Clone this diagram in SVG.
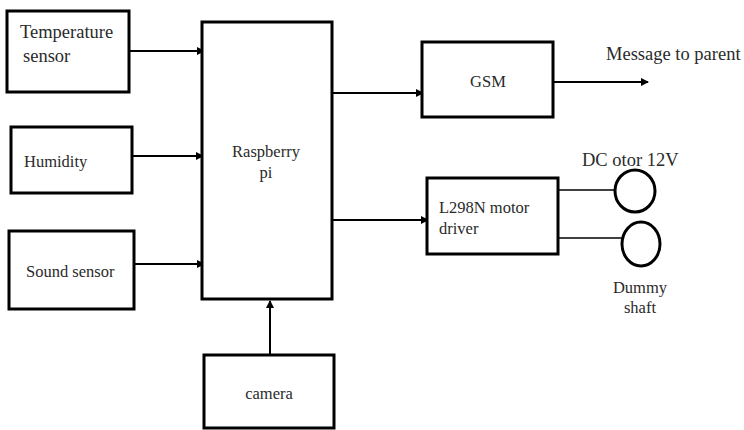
<svg xmlns="http://www.w3.org/2000/svg" width="744" height="430" viewBox="0 0 744 430">
<style>
.box{fill:#fff;stroke:#000;stroke-width:3}
.ln{fill:none;stroke:#000;stroke-width:2}
.thin{fill:none;stroke:#000;stroke-width:1.5}
.circ{fill:#fff;stroke:#000;stroke-width:3}
text{font-family:"Liberation Serif","Times New Roman",serif;font-size:16.5px;fill:#2a2a2a}
.big{font-size:18.5px}
.c{text-anchor:middle}
</style>
<defs>
<marker id="ah" markerWidth="8" markerHeight="8" refX="7" refY="4" orient="auto" markerUnits="userSpaceOnUse">
<path d="M0,0 L8,4 L0,8 Z" fill="#000"/>
</marker>
</defs>
<rect width="744" height="430" fill="#fff"/>
<g id="connectors">
<line class="ln" x1="129" y1="51" x2="204" y2="51" marker-end="url(#ah)"/>
<line class="ln" x1="132" y1="156" x2="203" y2="156" marker-end="url(#ah)"/>
<line class="ln" x1="134" y1="264" x2="204" y2="264" marker-end="url(#ah)"/>
<line class="ln" x1="270" y1="355" x2="270" y2="301" marker-end="url(#ah)"/>
<line class="ln" x1="332" y1="93" x2="423" y2="93" marker-end="url(#ah)"/>
<line class="ln" x1="332" y1="220" x2="428" y2="220" marker-end="url(#ah)"/>
<line class="ln" x1="553" y1="82" x2="648" y2="82" marker-end="url(#ah)"/>
<line class="thin" x1="558" y1="190" x2="615" y2="190"/>
<line class="thin" x1="558" y1="238" x2="622" y2="238"/>
</g>
<g id="temperature">
<rect class="box" x="7" y="11" width="122" height="81"/>
<text class="big" x="20" y="38">Temperature</text>
<text class="big" x="23" y="62">sensor</text>
</g>
<g id="humidity">
<rect class="box" x="11" y="127" width="121" height="66"/>
<text x="24" y="167">Humidity</text>
</g>
<g id="sound">
<rect class="box" x="9" y="231" width="125" height="78"/>
<text x="26" y="277">Sound sensor</text>
</g>
<g id="raspberry">
<rect class="box" x="202" y="22" width="130" height="277"/>
<text class="c" x="266" y="157">Raspberry</text>
<text class="c" x="266" y="178">pi</text>
</g>
<g id="camera">
<rect class="box" x="204" y="355" width="130" height="73"/>
<text class="c" x="269" y="399">camera</text>
</g>
<g id="gsm">
<rect class="box" x="422" y="42" width="131" height="75"/>
<text class="c" x="488" y="87">GSM</text>
</g>
<g id="message">
<text class="big" x="606" y="60">Message to parent</text>
</g>
<g id="l298n">
<rect class="box" x="427" y="178" width="131" height="76"/>
<text x="439" y="213">L298N motor</text>
<text x="439" y="234">driver</text>
</g>
<g id="dcmotor">
<ellipse class="circ" cx="635" cy="191" rx="20" ry="21"/>
<text class="big" x="582" y="166">DC otor 12V</text>
</g>
<g id="dummy">
<ellipse class="circ" cx="641" cy="244" rx="19" ry="22"/>
<text class="c" x="640" y="293">Dummy</text>
<text class="c" x="640" y="313">shaft</text>
</g>
</svg>
